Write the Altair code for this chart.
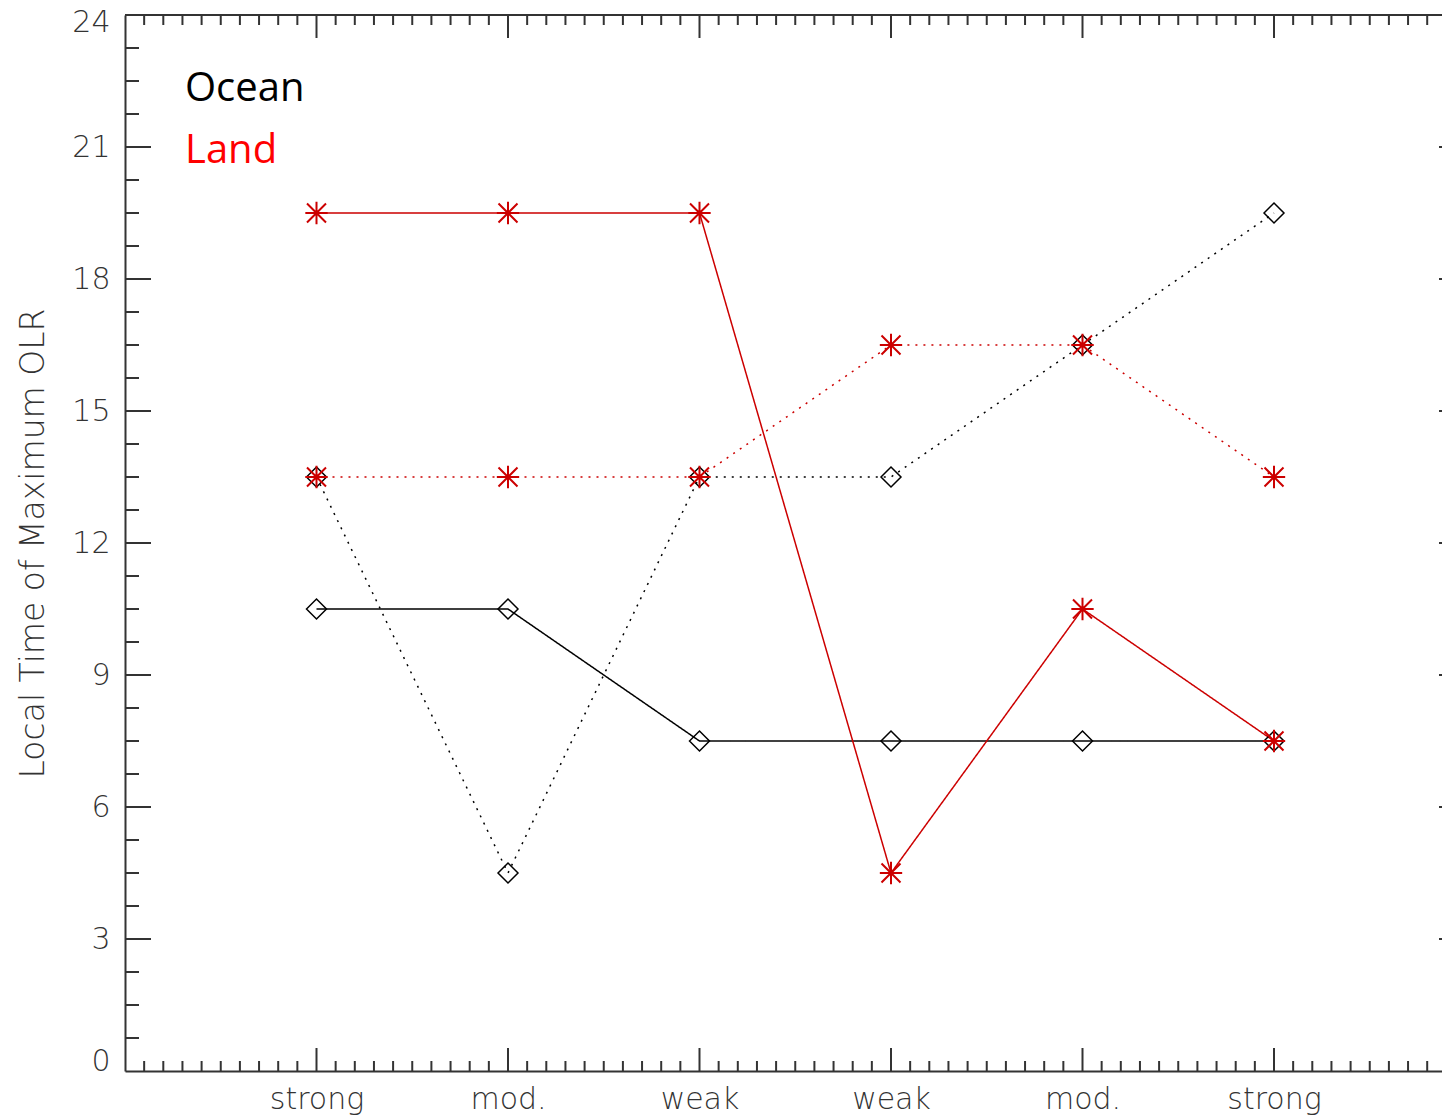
import altair as alt
import pandas as pd
import json

# ---- data ----
categories = ["strong", "mod.", "weak", "weak", "mod.", "strong"]
x_pos = [1, 2, 3, 4, 5, 6]
ocean_solid = [10.5, 10.5, 7.5, 7.5, 7.5, 7.5]
ocean_dotted = [13.5, 4.5, 13.5, 13.5, 16.5, 19.5]
land_solid = [19.5, 19.5, 19.5, 4.5, 10.5, 7.5]
land_dotted = [13.5, 13.5, 13.5, 16.5, 16.5, 13.5]
y_ticks = [0, 3, 6, 9, 12, 15, 18, 21, 24]
legend_labels = ["Ocean", "Land"]

# ---- layout ----
W, H = 1317, 1056
UNIT = 191.5
XMAX = W / UNIT
AX = "#333333"
RED = "#cc0000"

series = [
    ("ocean_solid", "Ocean", "solid", ocean_solid),
    ("ocean_dotted", "Ocean", "dotted", ocean_dotted),
    ("land_solid", "Land", "solid", land_solid),
    ("land_dotted", "Land", "dotted", land_dotted),
]
rows = []
for name, region, style, vals in series:
    for xp, v in zip(x_pos, vals):
        rows.append({"series": name, "region": region, "style": style, "x": xp, "y": v})
df = pd.DataFrame(rows)

label_js = json.dumps([""] + categories + [""])
xscale = alt.Scale(domain=[0, XMAX], nice=False, zero=False)
yscale = alt.Scale(domain=[0, 24], nice=False, zero=False)
xaxis = alt.Axis(values=x_pos, labelExpr=f"{label_js}[round(datum.value)]", ticks=False,
                 grid=False, domainColor=AX, domainWidth=2, labelFontSize=30,
                 labelFont="DejaVu Sans", labelFontWeight=200, labelColor=AX,
                 labelPadding=13, title=None, labelFlush=False)
yaxis = alt.Axis(values=y_ticks, ticks=False, grid=False, domainColor=AX, domainWidth=2,
                 labelFontSize=30, labelFont="DejaVu Sans", labelFontWeight=200,
                 labelColor=AX, labelPadding=15, title="Local Time of Maximum OLR",
                 labelOffset={"condition": [{"test": "datum.value == 24", "value": 7},
                                            {"test": "datum.value == 0", "value": -10}],
                              "value": 0},
                 titleFont="DejaVu Sans", titleFontWeight=200, titleFontSize=33,
                 titleColor=AX, titlePadding=21, labelFlush=False)


def X(field="x"):
    return alt.X(f"{field}:Q", scale=xscale, axis=xaxis)


def Y(field="y"):
    return alt.Y(f"{field}:Q", scale=yscale, axis=yaxis)


lines = alt.Chart(df).mark_line(strokeWidth=1.5).encode(
    x=X(), y=Y(),
    color=alt.Color("region:N", scale=alt.Scale(domain=["Ocean", "Land"], range=["#000000", RED]), legend=None),
    strokeDash=alt.StrokeDash("style:N", scale=alt.Scale(domain=["solid", "dotted"], range=[[1, 0], [2, 6]]), legend=None),
    detail="series:N",
)

ocean_pts = alt.Chart(df).transform_filter(alt.datum.region == "Ocean").mark_point(
    shape="diamond", filled=False, size=400, strokeWidth=1.5, color="#000000", opacity=1
).encode(x=X(), y=Y())

ASTER = "M-1,0L1,0M0,-1L0,1M-0.85,-0.85L0.85,0.85M-0.85,0.85L0.85,-0.85"
land_pts = alt.Chart(df).transform_filter(alt.datum.region == "Land").mark_point(
    shape=ASTER, filled=False, size=500, strokeWidth=2, color=RED, opacity=1
).encode(x=X(), y=Y())

# ---- box ticks (IDL style, pointing inward) ----
x_major = pd.DataFrame({"x": [1, 2, 3, 4, 5, 6]})
x_minor = pd.DataFrame({"x": [i / 10 for i in range(1, 70) if i % 10 != 0]})
y_major = pd.DataFrame({"y": [3, 6, 9, 12, 15, 18, 21]})
y_minor = pd.DataFrame({"y": [0.75 * k for k in range(1, 32) if k % 4 != 0]})

tick_layers = []
for d, ln in [(x_major, 23), (x_minor, 10)]:
    tick_layers.append(alt.Chart(d).mark_rule(color=AX, strokeWidth=2).encode(
        x=X(), y=alt.value(H), y2=alt.value(H - ln)))
    tick_layers.append(alt.Chart(d).mark_rule(color=AX, strokeWidth=2).encode(
        x=X(), y=alt.value(0), y2=alt.value(ln)))
for d, ln in [(y_major, 26), (y_minor, 14)]:
    tick_layers.append(alt.Chart(d).mark_rule(color=AX, strokeWidth=2).encode(
        y=Y(), x=alt.value(0), x2=alt.value(ln)))
    tick_layers.append(alt.Chart(d).mark_rule(color=AX, strokeWidth=2).encode(
        y=Y(), x=alt.value(W + 23), x2=alt.value(W + 23 - ln)))

top_line = alt.Chart(pd.DataFrame({"a": [0]})).mark_rule(color=AX, strokeWidth=2).encode(
    y=alt.value(0), x=alt.value(0), x2=alt.value(W))

ocean_txt = alt.Chart(pd.DataFrame({"t": [legend_labels[0]]})).mark_text(
    align="left", baseline="alphabetic", font="Open Sans", fontSize=40, color="#000000"
).encode(text="t:N", x=alt.value(60), y=alt.value(86))
land_txt = alt.Chart(pd.DataFrame({"t": [legend_labels[1]]})).mark_text(
    align="left", baseline="alphabetic", font="Open Sans", fontSize=40, color="#ff0000"
).encode(text="t:N", x=alt.value(60), y=alt.value(148))

chart = alt.layer(
    lines, *tick_layers, top_line, ocean_pts, land_pts, ocean_txt, land_txt
).properties(
    width=W, height=H,
    padding={"left": 117, "top": 7, "right": 0, "bottom": 45},
    autosize=alt.AutoSizeParams(type="none"),
    background="white",
).configure_view(stroke=None)

chart.save("out.html", embed_options={"renderer": "svg", "actions": False})
